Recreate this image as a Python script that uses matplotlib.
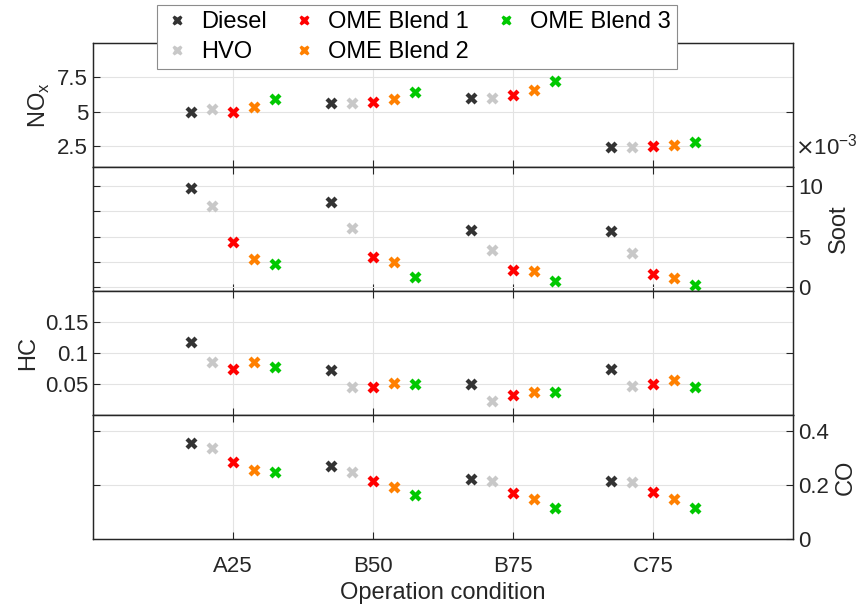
import matplotlib
matplotlib.use('Agg')
import matplotlib.pyplot as plt
import numpy as np

plt.rcParams['font.family'] = ['Liberation Sans', 'DejaVu Sans']

conditions = ['A25', 'B50', 'B75', 'C75']
fuels = ['Diesel', 'HVO', 'OME Blend 1', 'OME Blend 2', 'OME Blend 3']
colors = ['#333333', '#c8c8c8', '#ff0000', '#ff8000', '#00c800']

# rows: fuels, columns: conditions
nox = [[5.0, 5.62, 6.02, 2.43],
       [5.2, 5.65, 6.02, 2.43],
       [4.97, 5.75, 6.24, 2.5],
       [5.35, 5.93, 6.57, 2.6],
       [5.95, 6.43, 7.26, 2.8]]
soot_1e3 = [[9.83, 8.45, 5.62, 5.52],
            [8.08, 5.86, 3.70, 3.33],
            [4.44, 2.93, 1.68, 1.31],
            [2.76, 2.49, 1.62, 0.91],
            [2.32, 1.01, 0.61, 0.24]]
hc = [[0.118, 0.072, 0.0495, 0.074],
      [0.086, 0.045, 0.023, 0.046],
      [0.074, 0.045, 0.033, 0.0495],
      [0.085, 0.052, 0.037, 0.057],
      [0.078, 0.050, 0.0365, 0.0446]]
co = [[0.356, 0.270, 0.221, 0.216],
      [0.339, 0.248, 0.215, 0.211],
      [0.285, 0.215, 0.172, 0.176],
      [0.256, 0.193, 0.147, 0.149],
      [0.248, 0.162, 0.116, 0.116]]

offsets = [-0.3, -0.15, 0.0, 0.15, 0.3]
x = np.arange(1, len(conditions) + 1)

W, H = 866, 608
fig = plt.figure(figsize=(W / 100, H / 100), dpi=100)

left = 93 / W
width = 700 / W
tops = [43, 167, 291, 415]
ph = 124

axcol = '#262626'
gridcol = '#e3e3e3'
tfs = 16
lfs = 17

panels = [
    # data, ylim, grid ticks, label side, labelled ticks, other side ticks, ylabel
    (nox, (1, 10), [2.5, 5, 7.5], 'left', [2.5, 5, 7.5], [5], 'NO$_\\mathregular{x}$'),
    (soot_1e3, (-0.4, 11.9), [0, 2.5, 5, 7.5, 10], 'right', [0, 5, 10], [0, 2.5, 5, 7.5, 10], 'Soot'),
    (hc, (0, 0.2), [0.05, 0.1, 0.15], 'left', [0.05, 0.1, 0.15], [0.1], 'HC'),
    (co, (0, 0.46), [0.2, 0.4], 'right', [0, 0.2, 0.4], [0.2, 0.4], 'CO'),
]

axes = []
for i, (vals, ylim, gticks, side, lticks, oticks, ylab) in enumerate(panels):
    bottom = 1 - (tops[i] + ph) / H
    ax = fig.add_axes([left, bottom, width, ph / H])
    for j, f in enumerate(fuels):
        ax.plot(x + offsets[j], vals[j], linestyle='none', marker='X', ms=8.5,
                mec='none', color=colors[j], label=f, zorder=3)
    ax.set_xlim(0, 5)
    ax.set_ylim(*ylim)
    ax.set_xticks(x)
    ax.set_yticks(gticks)
    ax.grid(True, color=gridcol, linewidth=0.8)
    ax.set_axisbelow(True)
    for s in ax.spines.values():
        s.set_color(axcol)
        s.set_linewidth(0.9)
    ax.tick_params(axis='x', direction='in', top=True, bottom=True, length=5,
                   color=axcol, labelbottom=(i == 3), labelsize=tfs, labelcolor=axcol, pad=12)
    ax.tick_params(axis='y', direction='in', left=True, right=False, length=5,
                   color=axcol, labelsize=tfs, labelcolor=axcol)

    tw = ax.twinx()
    tw.set_ylim(*ylim)
    for s in tw.spines.values():
        s.set_color(axcol)
        s.set_linewidth(0.9)
    tw.tick_params(axis='y', direction='in', length=5, color=axcol,
                   labelsize=tfs, labelcolor=axcol)

    if side == 'left':
        ax.set_yticks(lticks)
        ax.set_yticklabels([('%g' % v) for v in lticks])
        ax.set_ylabel(ylab, fontsize=lfs, color=axcol, labelpad=4)
        tw.set_yticks(oticks)
        tw.set_yticklabels([])
    else:
        ax.set_yticklabels([])
        tw.set_yticks(lticks)
        tw.set_yticklabels([('%g' % v) for v in lticks])
        tw.set_ylabel(ylab, fontsize=lfs, color=axcol, labelpad=4)
    axes.append(ax)

axes[3].set_xticklabels(conditions)
axes[3].set_xlabel('Operation condition', fontsize=lfs, color=axcol, labelpad=4)

fig.text(795 / W, 1 - 155 / H, '$\\times$10$^{\\mathregular{-3}}$', fontsize=tfs,
         color=axcol, ha='left', va='baseline')

handles, labels = axes[0].get_legend_handles_labels()
leg = fig.legend(handles, labels, ncol=3, loc='upper left',
                 bbox_to_anchor=(157 / W, 1 - 5 / H), fontsize=lfs,
                 frameon=True, fancybox=False, framealpha=1, edgecolor='#8c8c8c',
                 borderaxespad=0, handletextpad=0.4, columnspacing=1.0,
                 handlelength=1.2, labelspacing=0.35, borderpad=0.25, markerscale=0.85)
leg.get_frame().set_linewidth(0.8)

fig.savefig('out.png', dpi=100)
